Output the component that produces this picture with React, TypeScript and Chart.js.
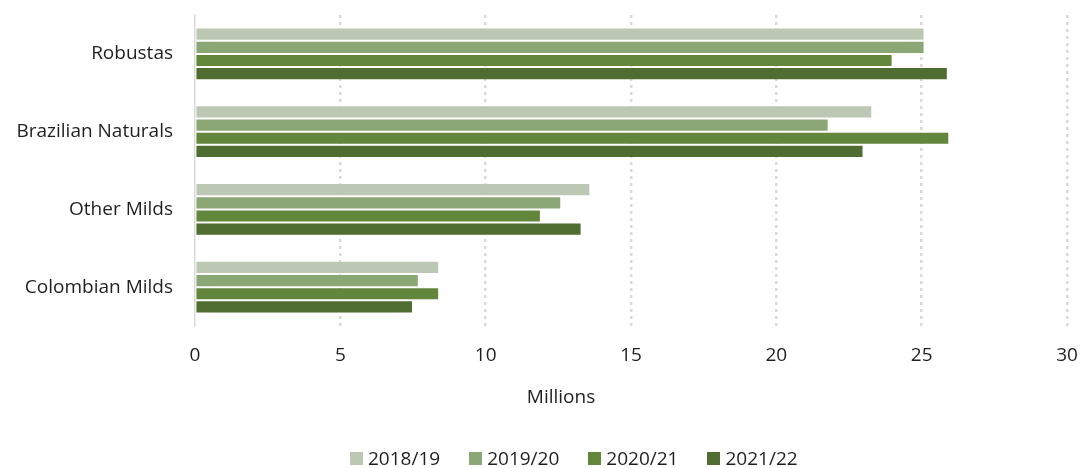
import { useEffect, useRef } from "react";
import { Chart, registerables } from "chart.js";
Chart.register(...registerables);

const categories = ["Robustas", "Brazilian Naturals", "Other Milds", "Colombian Milds"];
const seriesLabels = ["2018/19", "2019/20", "2020/21", "2021/22"];
const s2018 = [25.1, 23.3, 13.6, 8.4];
const s2019 = [25.1, 21.8, 12.6, 7.7];
const s2020 = [24.0, 25.95, 11.9, 8.4];
const s2021 = [25.9, 23.0, 13.3, 7.5];
const seriesValues = [s2018, s2019, s2020, s2021];
const colors = ["#bcc8b4", "#8ba776", "#62863c", "#4f6d30"];
const xTicks = [0, 5, 10, 15, 20, 25, 30];
const axisTitle = "Millions";

const FONT = "'Open Sans', sans-serif";
const TEXT = "#1f1f1f";
const SIZE = 19;

function noPad(s: any) {
  s.paddingTop = 0;
  s.paddingBottom = 0;
  s.paddingLeft = 0;
  s.paddingRight = 0;
}

export default function App() {
  const ref = useRef<HTMLCanvasElement | null>(null);
  useEffect(() => {
    document.body.style.margin = "0";
    document.body.style.overflow = "hidden";
    if (!ref.current) return;
    const titlePlugin = {
      id: "xTitle",
      afterDraw(chart: any) {
        const c = chart.ctx;
        c.save();
        c.font = `${SIZE}px ${FONT}`;
        c.fillStyle = TEXT;
        c.textAlign = "center";
        c.textBaseline = "middle";
        c.fillText(axisTitle, 561, 398);
        c.restore();
      },
    };
    const chart = new Chart(ref.current, {
      type: "bar",
      data: {
        labels: categories,
        datasets: seriesLabels.map((l, i) => ({
          label: l,
          data: seriesValues[i],
          backgroundColor: colors[i],
          borderColor: "rgba(255,255,255,0.12)",
          borderWidth: 1,
          categoryPercentage: 0.68,
          barPercentage: 1,
        })),
      },
      options: {
        indexAxis: "y",
        animation: false,
        responsive: true,
        maintainAspectRatio: false,
        layout: { padding: { top: 15, right: 15, left: 0, bottom: 0 } },
        plugins: { legend: { display: false }, tooltip: { enabled: false } },
        scales: {
          x: {
            min: 0,
            max: 30,
            afterBuildTicks: (s: any) => {
              s.ticks = xTicks.map((v) => ({ value: v }));
            },
            afterFit: (s: any) => {
              s.height = 142;
              noPad(s);
            },
            grid: {
              color: (ctx: any) => (ctx.tick && ctx.tick.value === 0 ? "transparent" : "#d9d9d9"),
              lineWidth: 2.5,
              drawTicks: false,
            },
            border: { display: false, dash: [3, 4] },
            ticks: { padding: 18, color: TEXT, font: { family: FONT, size: SIZE } },
          },
          y: {
            afterFit: (s: any) => {
              s.width = 195;
              noPad(s);
            },
            grid: { display: false, drawTicks: false },
            border: { display: true, color: "#d9d9d9", width: 1.5 },
            ticks: { padding: 22, color: TEXT, font: { family: FONT, size: SIZE } },
          },
        },
      },
      plugins: [titlePlugin],
    });
    return () => chart.destroy();
  }, []);

  return (
    <div style={{ position: "relative", width: 1082, height: 468, overflow: "hidden" }}>
      <canvas ref={ref} />
      <div
        style={{
          position: "absolute",
          left: 350,
          top: 448,
          display: "flex",
          gap: 29,
          fontFamily: FONT,
          fontSize: SIZE,
          color: TEXT,
          lineHeight: "20px",
        }}
      >
        {seriesLabels.map((l, i) => (
          <div key={l} style={{ display: "flex", alignItems: "center" }}>
            <span style={{ display: "inline-block", width: 13, height: 13, background: colors[i], marginRight: 5 }} />
            <span>{l}</span>
          </div>
        ))}
      </div>
    </div>
  );
}
